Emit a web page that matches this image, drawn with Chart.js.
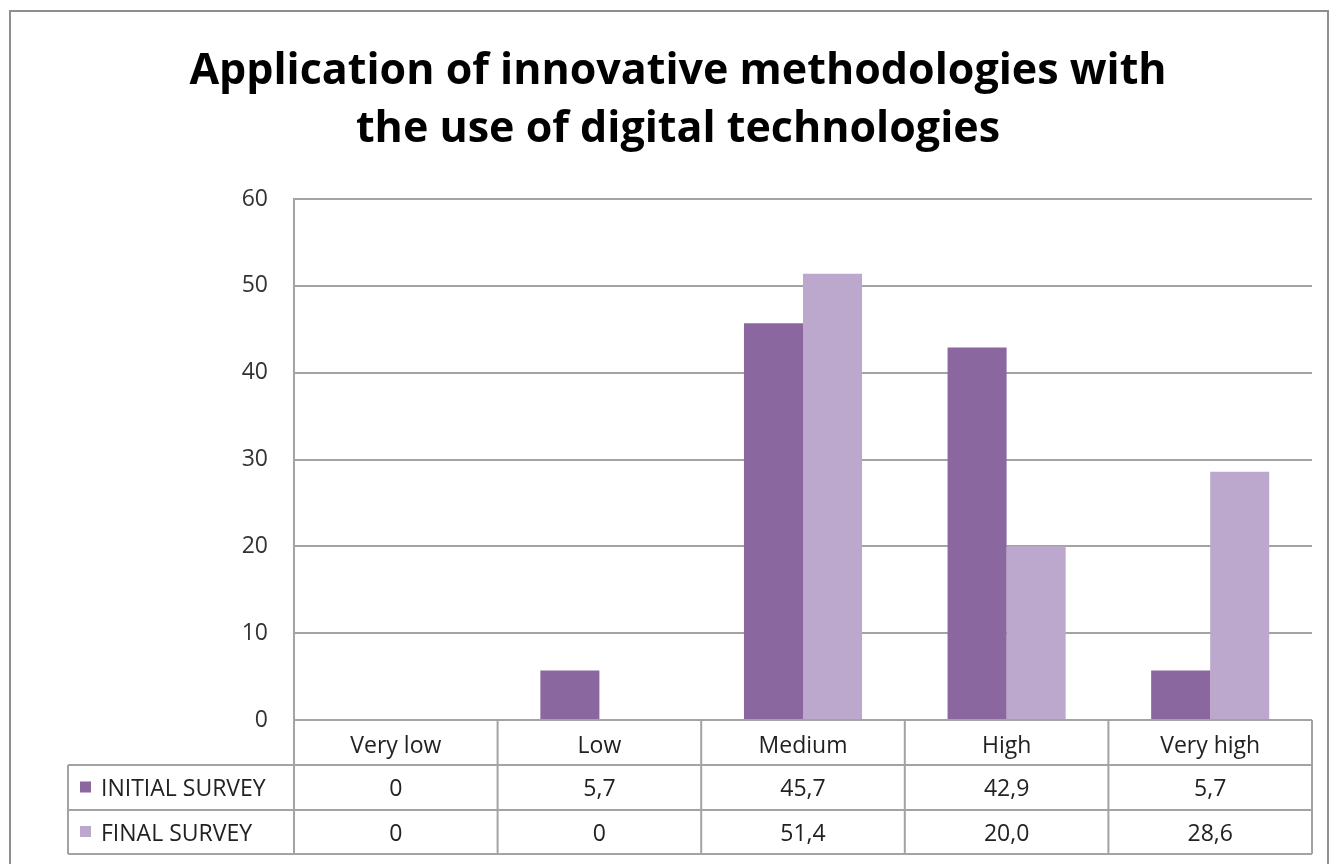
<!DOCTYPE html>
<html>
<head>
<meta charset="utf-8">
<script src="https://cdn.jsdelivr.net/npm/chart.js@4.4.1/dist/chart.umd.min.js"></script>
<style>
  body { margin: 0; background: #fff; }
  canvas { display: block; }
</style>
</head>
<body>
<canvas id="chart" width="1330" height="864"></canvas>
<script>
const categories = ['Very low', 'Low', 'Medium', 'High', 'Very high'];
const initialSurvey = [0, 5.7, 45.7, 42.9, 5.7];
const finalSurvey = [0, 0, 51.4, 20.0, 28.6];
const seriesNames = ['INITIAL SURVEY', 'FINAL SURVEY'];
const titleLines = ['Application of innovative methodologies with', 'the use of digital technologies'];

const colorInitial = '#8b67a0';
const colorFinal = '#bba8cc';
const lineGray = '#a3a3a3';
const fontFamily = '"Open Sans", sans-serif';

// formato con coma decimal como en la tabla original
function fmt(v) {
  return v === 0 ? '0' : v.toFixed(1).replace('.', ',');
}

// marco exterior gris y título
const frame = {
  id: 'frame',
  beforeDraw(chart) {
    const ctx = chart.ctx;
    ctx.save();
    ctx.strokeStyle = '#8f8f8f';
    ctx.lineWidth = 2;
    ctx.strokeRect(10, 11, 1318, 900);

    ctx.fillStyle = '#000';
    ctx.font = 'bold 43px ' + fontFamily;
    ctx.textAlign = 'center';
    ctx.textBaseline = 'middle';
    ctx.fillText(titleLines[0], 678, 72);
    ctx.fillText(titleLines[1], 678, 130);
    ctx.restore();
  }
};

// tabla de datos debajo del eje x
const dataTable = {
  id: 'dataTable',
  afterDraw(chart) {
    const { ctx, chartArea } = chart;
    const x = chart.scales.x;
    const left = chartArea.left, right = chartArea.right, top = chartArea.bottom;
    const rowH = [45, 45, 44];
    const rows = [top, top + rowH[0], top + rowH[0] + rowH[1], top + rowH[0] + rowH[1] + rowH[2]];
    const colW = (right - left) / categories.length;
    const legLeft = 68;

    ctx.save();
    ctx.strokeStyle = lineGray;
    ctx.lineWidth = 2;
    ctx.beginPath();
    // horizontales
    ctx.moveTo(left, rows[0]); ctx.lineTo(right, rows[0]);
    for (let r = 1; r < rows.length; r++) {
      ctx.moveTo(legLeft, rows[r]); ctx.lineTo(right, rows[r]);
    }
    // verticales
    for (let i = 0; i <= categories.length; i++) {
      const cx = left + i * colW;
      ctx.moveTo(cx, rows[0]); ctx.lineTo(cx, rows[3]);
    }
    ctx.moveTo(legLeft, rows[1]); ctx.lineTo(legLeft, rows[3]);
    ctx.stroke();

    ctx.fillStyle = '#222';
    ctx.font = '23px ' + fontFamily;
    ctx.textAlign = 'center';
    ctx.textBaseline = 'middle';
    categories.forEach((c, i) => {
      const cx = x.getPixelForValue(i);
      ctx.fillText(c, cx, (rows[0] + rows[1]) / 2 + 4);
      ctx.fillText(fmt(initialSurvey[i]), cx, (rows[1] + rows[2]) / 2 + 2);
      ctx.fillText(fmt(finalSurvey[i]), cx, (rows[2] + rows[3]) / 2 + 2);
    });

    // leyenda en la tabla
    const swatch = [colorInitial, colorFinal];
    ctx.textAlign = 'left';
    seriesNames.forEach((n, i) => {
      const cy = (rows[i + 1] + rows[i + 2]) / 2;
      ctx.fillStyle = swatch[i];
      ctx.fillRect(80, cy - 6, 11, 11);
      ctx.fillStyle = '#222';
      ctx.fillText(n, 101, cy + 2);
    });
    ctx.restore();
  }
};

new Chart(document.getElementById('chart'), {
  type: 'bar',
  data: {
    labels: categories,
    datasets: [
      { label: seriesNames[0], data: initialSurvey, backgroundColor: colorInitial },
      { label: seriesNames[1], data: finalSurvey, backgroundColor: colorFinal }
    ]
  },
  plugins: [frame, dataTable],
  options: {
    responsive: false,
    animation: false,
    layout: { padding: { left: 0, right: 18, top: 199, bottom: 144 } },
    datasets: { bar: { categoryPercentage: 0.58, barPercentage: 1.0 } },
    plugins: {
      legend: { display: false },
      tooltip: { enabled: false },
      title: { display: false }
    },
    scales: {
      x: { display: false },
      y: {
        min: 0,
        max: 60,
        afterFit(scale) { scale.width = 294; },
        ticks: {
          stepSize: 10,
          padding: 26,
          color: '#333',
          font: { family: fontFamily, size: 23 }
        },
        grid: { color: lineGray, lineWidth: 2, drawTicks: false },
        border: { display: true, color: lineGray, width: 2 }
      }
    }
  }
});
</script>
</body>
</html>
